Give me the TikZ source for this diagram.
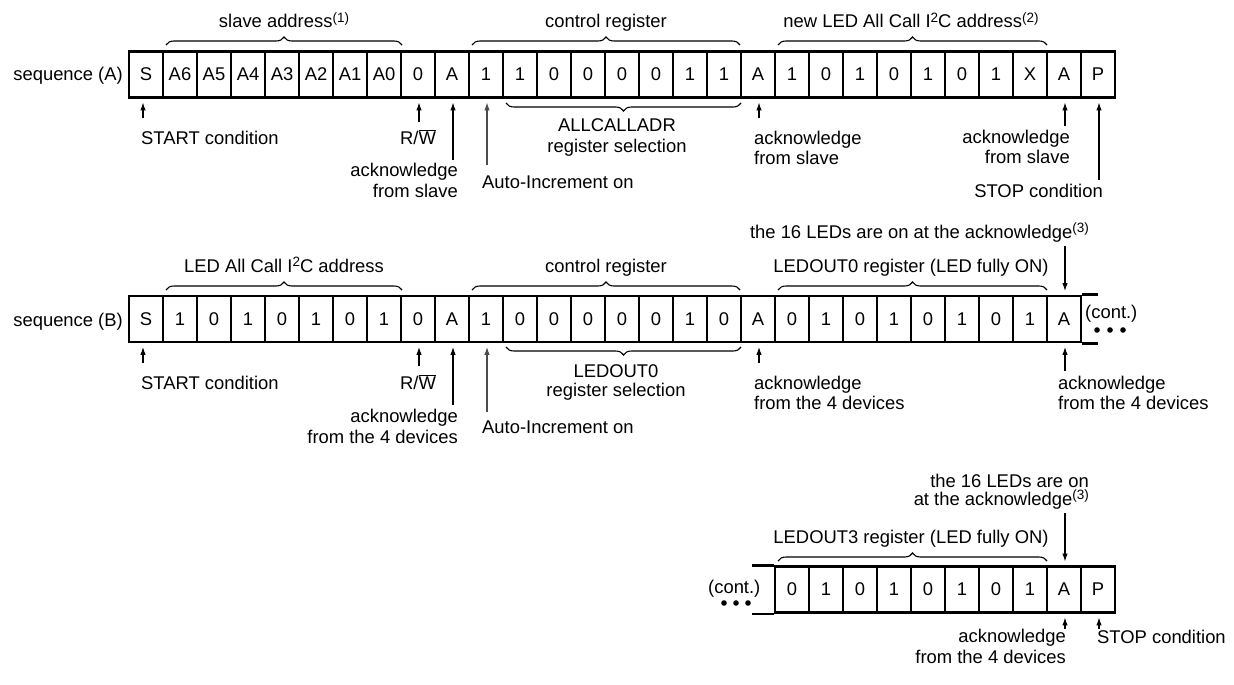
\documentclass[tikz,border=0pt]{standalone}
\usepackage{fontspec}
\setmainfont{Liberation Sans}
\usetikzlibrary{arrows.meta,decorations.pathreplacing}
\newcommand{\fs}{\fontsize{18.4}{21}\selectfont}
\newcommand{\supx}[1]{\raisebox{5.5pt}{\fontsize{13.5}{15}\selectfont #1}}
\newcommand{\rwbar}{R/$\overline{\hbox{W}}$}
\begin{document}
\begin{tikzpicture}[x=1pt,y=-1pt,
  cell/.style={draw, line width=2.8pt, minimum width=34pt, minimum height=46pt, inner sep=0pt, font=\fs},
  txt/.style={font=\fs, inner sep=0pt},
  brc/.style={decorate, decoration={brace, amplitude=8pt}, line width=1.1pt},
  arr/.style={line width=1.2pt, -{Latex[length=8pt,width=5.5pt]}, shorten >=3.5pt},
  garr/.style={arr, color=black!70},
  ext/.style={line width=2.8pt},
  dotf/.style={fill=black}]
\useasboundingbox (0,0) rectangle (1234,685);

% ---------------- sequence A ----------------
\foreach \t [count=\i] in {S,A6,A5,A4,A3,A2,A1,A0,0,A,1,1,0,0,0,0,1,1,A,1,0,1,0,1,0,1,X,A,P}
  \node[cell] (a\i) at (112+34*\i,74.5) {\t};
\node[txt, anchor=base east] (seqA) at (123,81) {sequence (A)};

\draw[brc] (166,45) -- (402,45);
\node[txt, anchor=base] (tA1) at (284,27.5) {slave address\supx{(1)}};
\draw[brc] (472,45) -- (740,45);
\node[txt, anchor=base] (tA2) at (606,27.5) {control register};
\draw[brc] (778,45) -- (1047,45);
\node[txt, anchor=base] (tA3) at (911,27.5) {new LED All Call I\supx{2}C address\supx{(2)}};
\draw[brc] (741,103) -- (506,103);
\node[txt, anchor=base] (tA4) at (617,131.5) {ALLCALLADR};
\node[txt, anchor=base] (tA5) at (617,152) {register selection};

\node[txt, anchor=base west] (lA1) at (141,144.5) {START condition};
\coordinate (pA1) at (143,118);
\draw[arr] (pA1) -- (pA1 |- a1.south);
\node[txt, anchor=base] (lA2) at (418,144.5) {\rwbar};
\coordinate (pA2) at (419,122);
\draw[arr] (pA2) -- (pA2 |- a9.south);
\node[txt, anchor=base east] (lA3) at (458,176) {acknowledge};
\node[txt, anchor=base east] (lA3b) at (458,197) {from slave};
\coordinate (pA3) at (453,160);
\draw[arr] (pA3) -- (pA3 |- a10.south);
\node[txt, anchor=base west] (lA4) at (482,188) {Auto-Increment on};
\coordinate (pA4) at (487,165);
\draw[garr] (pA4) -- (pA4 |- a11.south);
\node[txt, anchor=base west] (lA5) at (754,144) {acknowledge};
\node[txt, anchor=base west] (lA5b) at (754,164) {from slave};
\coordinate (pA5) at (759,118);
\draw[arr] (pA5) -- (pA5 |- a19.south);
\node[txt, anchor=base east] (lA6) at (1070,143.5) {acknowledge};
\node[txt, anchor=base east] (lA6b) at (1070,163) {from slave};
\coordinate (pA6) at (1065,126);
\draw[arr] (pA6) -- (pA6 |- a28.south);
\node[txt, anchor=base east] (lA7) at (1103,197) {STOP condition};
\coordinate (pA7) at (1099,180);
\draw[arr] (pA7) -- (pA7 |- a29.south);

% ---------------- sequence B ----------------
\foreach \t [count=\i] in {S,1,0,1,0,1,0,1,0,A,1,0,0,0,0,0,1,0,A,0,1,0,1,0,1,0,1,A}
  \node[cell] (b\i) at (112+34*\i,319) {\t};
\draw[ext] (b28.north east) -- ++(16,0);
\draw[ext] (b28.south east) -- ++(16,0);
\node[txt, anchor=base east] (seqB) at (123,326) {sequence (B)};

\node[txt, anchor=base east] (tB0) at (1089,238) {the 16 LEDs are on at the acknowledge\supx{(3)}};
\coordinate (pB0) at (1065,246);
\draw[arr] (pB0) -- (pB0 |- b28.north);

\draw[brc] (166,290) -- (402,290);
\node[txt, anchor=base] (tB1) at (284,272) {LED All Call I\supx{2}C address};
\draw[brc] (472,290) -- (740,290);
\node[txt, anchor=base] (tB2) at (606,272) {control register};
\draw[brc] (778,290) -- (1047,290);
\node[txt, anchor=base] (tB3) at (911,272) {LEDOUT0 register (LED fully ON)};
\draw[brc] (741,347) -- (506,347);
\node[txt, anchor=base] (tB4) at (616,377) {LEDOUT0};
\node[txt, anchor=base] (tB5) at (616,396) {register selection};

\node[txt, anchor=base west] (lB1) at (141,389) {START condition};
\coordinate (pB1) at (143,363);
\draw[arr] (pB1) -- (pB1 |- b1.south);
\node[txt, anchor=base] (lB2) at (418,389) {\rwbar};
\coordinate (pB2) at (419,366);
\draw[arr] (pB2) -- (pB2 |- b9.south);
\node[txt, anchor=base east] (lB3) at (458,422) {acknowledge};
\node[txt, anchor=base east] (lB3b) at (458,443) {from the 4 devices};
\coordinate (pB3) at (453,405);
\draw[arr] (pB3) -- (pB3 |- b10.south);
\node[txt, anchor=base west] (lB4) at (482,433) {Auto-Increment on};
\coordinate (pB4) at (487,412);
\draw[garr] (pB4) -- (pB4 |- b11.south);
\node[txt, anchor=base west] (lB5) at (754,389) {acknowledge};
\node[txt, anchor=base west] (lB5b) at (754,409) {from the 4 devices};
\coordinate (pB5) at (759,363);
\draw[arr] (pB5) -- (pB5 |- b19.south);
\node[txt, anchor=base west] (lB6) at (1058,389) {acknowledge};
\node[txt, anchor=base west] (lB6b) at (1058,409) {from the 4 devices};
\coordinate (pB6) at (1065,371);
\draw[arr] (pB6) -- (pB6 |- b28.south);

\node[txt, anchor=base west] (contB) at (1085,318) {(cont.)};
\fill[dotf] (1097,330) circle (2.8);
\fill[dotf] (1110,330) circle (2.8);
\fill[dotf] (1123,330) circle (2.8);

% ---------------- sequence C ----------------
\foreach \t [count=\i] in {0,1,0,1,0,1,0,1,A,P}
  \node[cell] (c\i) at (758+34*\i,589.5) {\t};
\draw[ext] (c1.north west) -- ++(-22,0);
\draw[ext] (c1.south west) -- ++(-22,0);
\node[txt, anchor=base west] (contC) at (708,593) {(cont.)};
\fill[dotf] (724,603) circle (2.8);
\fill[dotf] (736,603) circle (2.8);
\fill[dotf] (748,603) circle (2.8);

\node[txt, anchor=base east] (tC0) at (1089,487) {the 16 LEDs are on};
\node[txt, anchor=base east] (tC0b) at (1089,505) {at the acknowledge\supx{(3)}};
\coordinate (pC0) at (1065,513);
\draw[arr] (pC0) -- (pC0 |- c9.north);

\draw[brc] (778,561) -- (1047,561);
\node[txt, anchor=base] (tC1) at (911,543.5) {LEDOUT3 register (LED fully ON)};

\node[txt, anchor=base east] (lC1) at (1066,642) {acknowledge};
\node[txt, anchor=base east] (lC1b) at (1066,663) {from the 4 devices};
\coordinate (pC1) at (1065,629);
\draw[arr] (pC1) -- (pC1 |- c9.south);
\node[txt, anchor=base west] (lC2) at (1097,643) {STOP condition};
\coordinate (pC2) at (1099,629);
\draw[arr] (pC2) -- (pC2 |- c10.south);
\end{tikzpicture}
\end{document}
